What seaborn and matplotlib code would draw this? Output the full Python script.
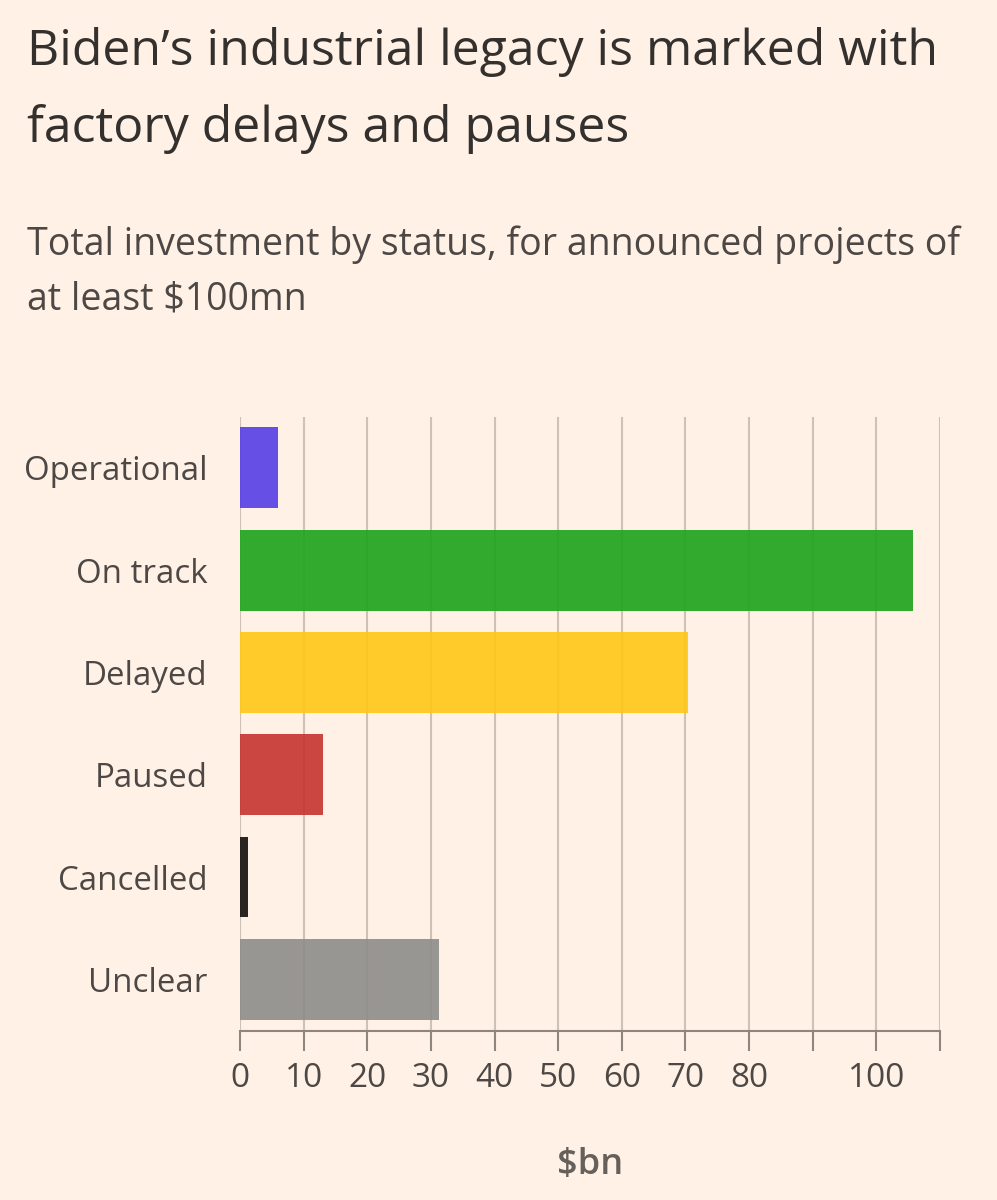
import matplotlib
matplotlib.use("Agg")
import matplotlib.pyplot as plt
import matplotlib.colors as mcolors
import seaborn as sns
import pandas as pd
import numpy as np

# ---- data ----
statuses = ["Operational", "On track", "Delayed", "Paused", "Cancelled", "Unclear"]
investment_bn = [5.9, 105.7, 70.4, 13.0, 1.2, 31.3]
bar_colours = ["#664fe6", "#33ab2d", "#fecb2a", "#cc4541", "#2b2623", "#989692"]
x_ticks = [0, 10, 20, 30, 40, 50, 60, 70, 80, 90, 100, 110]
x_tick_labels = ["0", "10", "20", "30", "40", "50", "60", "70", "80", "", "100", ""]

title_lines = ["Biden\u2019s industrial legacy is marked with", "factory delays and pauses"]
subtitle_lines = ["Total investment by status, for announced projects of", "at least $100mn"]
x_label = "$bn"

BG = "#fff1e5"
TEXT = "#33302e"
ALPHA = 0.9

def under_alpha(hex_colour, bg=BG, a=ALPHA):
    c = np.array(mcolors.to_rgb(hex_colour))
    b = np.array(mcolors.to_rgb(bg))
    return tuple(np.clip((c - (1 - a) * b) / a, 0, 1))

df = pd.DataFrame({"status": statuses, "value": investment_bn})
palette = {s: under_alpha(c) for s, c in zip(statuses, bar_colours)}

sns.set_theme(style="white")
plt.rcParams["font.family"] = ["Open Sans", "DejaVu Sans"]

W, H = 997, 1200
fig = plt.figure(figsize=(W / 100, H / 100), dpi=100, facecolor=BG)
ax_left, ax_right, ax_top, ax_bot = 240, 940, 416.7, 1030.5
ax = fig.add_axes([ax_left / W, 1 - ax_bot / H, (ax_right - ax_left) / W, (ax_bot - ax_top) / H])
ax.set_facecolor(BG)

sns.barplot(data=df, x="value", y="status", hue="status", palette=palette,
            order=statuses, hue_order=statuses, orient="h", width=0.79,
            saturation=1, legend=False, alpha=ALPHA, linewidth=0, ax=ax)

ax.set_xlim(0, 110)
ax.set_ylim(5.5, -0.5)
ax.set_xticks(x_ticks)
ax.set_xticklabels(x_tick_labels)
ax.set_axisbelow(True)
ax.xaxis.grid(True, color="#cdc2b8", linewidth=1.5)
ax.yaxis.grid(False)

for side in ["left", "right", "top"]:
    ax.spines[side].set_visible(False)
ax.spines["bottom"].set_color("#8e857d")
ax.spines["bottom"].set_linewidth(1.5)

ax.tick_params(axis="x", bottom=True, length=14.4, width=1.5, color="#8e857d",
               pad=8, labelsize=24, labelcolor="#4d4845")
ax.tick_params(axis="y", left=False, length=0, pad=23.5, labelsize=23.8, labelcolor="#4d4845")
ax.set_ylabel("")
ax.set_xlabel(x_label, fontsize=26, fontweight="semibold", color="#66605c", labelpad=38)

# titles
fig.text(27 / W, 1 - 65 / H, title_lines[0], fontsize=36, color=TEXT, va="baseline", ha="left")
fig.text(27 / W, 1 - 142 / H, title_lines[1], fontsize=36, color=TEXT, va="baseline", ha="left")
fig.text(27 / W, 1 - 255 / H, subtitle_lines[0], fontsize=27, color="#4d4845", va="baseline", ha="left")
fig.text(27 / W, 1 - 310 / H, subtitle_lines[1], fontsize=27, color="#4d4845", va="baseline", ha="left")

fig.savefig("out.png", dpi=100, facecolor=BG)
